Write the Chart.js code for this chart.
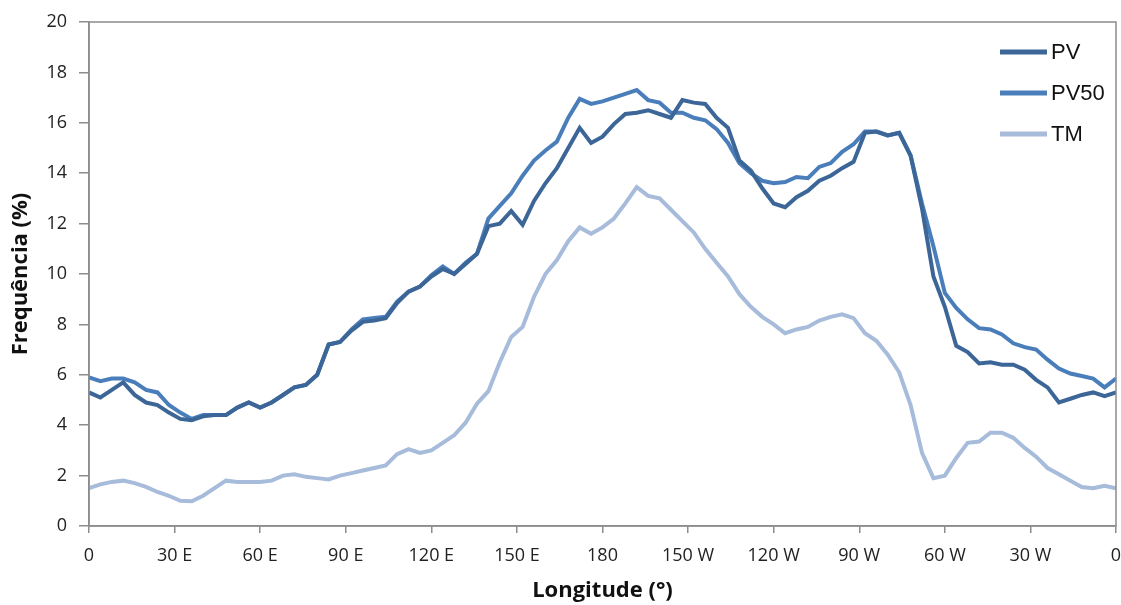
<!DOCTYPE html>
<html>
<head>
<meta charset="utf-8">
<title>Frequência por longitude</title>
<script src="https://cdn.jsdelivr.net/npm/chart.js@4.4.1/dist/chart.umd.min.js"></script>
<style>
  body { margin: 0; background: #fff; }
  canvas { display: block; }
</style>
</head>
<body>
<canvas id="mycanvas1" width="1121" height="605"></canvas>
<script>
// longitude in degrees east from 0 to 360 (0 -> 180 -> 0 W)
var longitudes = [0, 4, 8, 12, 16, 20, 24, 28, 32, 36, 40, 44, 48, 52, 56, 60, 64, 68, 72, 76,
	80, 84, 88, 92, 96, 100, 104, 108, 112, 116, 120, 124, 128, 132, 136, 140, 144, 148, 152, 156,
	160, 164, 168, 172, 176, 180, 184, 188, 192, 196, 200, 204, 208, 212, 216, 220, 224, 228, 232, 236,
	240, 244, 248, 252, 256, 260, 264, 268, 272, 276, 280, 284, 288, 292, 296, 300, 304, 308, 312, 316,
	320, 324, 328, 332, 336, 340, 344, 348, 352, 356, 360];

var pv = [5.3, 5.1, 5.4, 5.7, 5.2, 4.9, 4.8, 4.5, 4.25, 4.2, 4.35, 4.4, 4.4, 4.7, 4.9, 4.7, 4.9, 5.2, 5.5, 5.6,
	6.0, 7.2, 7.3, 7.75, 8.1, 8.15, 8.25, 8.85, 9.3, 9.5, 9.9, 10.2, 10.0, 10.4, 10.8, 11.9, 12.0, 12.5, 11.95, 12.9,
	13.6, 14.2, 15.0, 15.8, 15.2, 15.45, 15.95, 16.35, 16.4, 16.5, 16.35, 16.2, 16.9, 16.8, 16.75, 16.2, 15.8, 14.5, 14.1, 13.4,
	12.8, 12.65, 13.05, 13.3, 13.7, 13.9, 14.2, 14.45, 15.6, 15.65, 15.5, 15.6, 14.7, 12.6, 9.9, 8.7, 7.15, 6.9, 6.45, 6.5,
	6.4, 6.4, 6.2, 5.8, 5.5, 4.9, 5.05, 5.2, 5.3, 5.15, 5.3];

var pv50 = [5.9, 5.75, 5.85, 5.85, 5.7, 5.4, 5.3, 4.8, 4.5, 4.25, 4.4, 4.4, 4.4, 4.7, 4.9, 4.7, 4.9, 5.2, 5.5, 5.6,
	6.0, 7.2, 7.3, 7.8, 8.2, 8.25, 8.3, 8.9, 9.3, 9.5, 9.95, 10.3, 10.0, 10.45, 10.8, 12.2, 12.7, 13.2, 13.9, 14.5,
	14.9, 15.25, 16.2, 16.95, 16.75, 16.85, 17.0, 17.15, 17.3, 16.9, 16.8, 16.4, 16.4, 16.2, 16.1, 15.75, 15.2, 14.4, 14.0, 13.7,
	13.6, 13.65, 13.85, 13.8, 14.25, 14.4, 14.85, 15.15, 15.65, 15.65, 15.5, 15.6, 14.7, 12.8, 11.1, 9.25, 8.65, 8.2, 7.85, 7.8,
	7.6, 7.25, 7.1, 7.0, 6.6, 6.25, 6.05, 5.95, 5.85, 5.5, 5.85];

var tm = [1.5, 1.65, 1.75, 1.8, 1.7, 1.55, 1.35, 1.2, 1.0, 0.98, 1.2, 1.5, 1.8, 1.75, 1.75, 1.75, 1.8, 2.0, 2.05, 1.95,
	1.9, 1.85, 2.0, 2.1, 2.2, 2.3, 2.4, 2.85, 3.05, 2.9, 3.0, 3.3, 3.6, 4.1, 4.85, 5.35, 6.5, 7.5, 7.9, 9.1,
	10.0, 10.55, 11.3, 11.85, 11.6, 11.85, 12.2, 12.8, 13.45, 13.1, 13.0, 12.55, 12.1, 11.65, 11.0, 10.45, 9.9, 9.2, 8.7, 8.3,
	8.0, 7.65, 7.8, 7.9, 8.15, 8.3, 8.4, 8.25, 7.65, 7.35, 6.8, 6.1, 4.8, 2.9, 1.9, 2.0, 2.7, 3.3, 3.35, 3.7,
	3.7, 3.5, 3.1, 2.75, 2.3, 2.05, 1.8, 1.55, 1.5, 1.6, 1.5];

var seriesNames = ["PV", "PV50", "TM"];
var xTickLabels = ["0", "30 E", "60 E", "90 E", "120 E", "150 E", "180", "150 W", "120 W", "90 W", "60 W", "30 W", "0"];
var xTitle = "Longitude (°)";
var yTitle = "Frequência (%)";

function toPoints(values) {
	return longitudes.map(function(lon, i) { return {x: lon, y: values[i]}; });
}

var axisGray = "#8c8c8c";
var tickFont = {family: "Open Sans", size: 18};
var titleFont = {family: "Open Sans", size: 22, weight: "bold"};

// plot frame (top/right border) and legend in the top right corner
var framePlugin = {
	id: "frame",
	afterDraw: function(chart) {
		var ctx = chart.ctx;
		var a = chart.chartArea;
		ctx.save();
		ctx.strokeStyle = axisGray;
		ctx.lineWidth = 1.5;
		ctx.strokeRect(a.left, a.top, a.right - a.left, a.bottom - a.top);

		chart.data.datasets.forEach(function(ds, i) {
			var y = a.top + 30 + i * 41;
			ctx.strokeStyle = ds.borderColor;
			ctx.lineWidth = 5;
			ctx.beginPath();
			ctx.moveTo(a.right - 116, y);
			ctx.lineTo(a.right - 69, y);
			ctx.stroke();
			ctx.fillStyle = "#111";
			ctx.font = '22px "Liberation Sans"';
			ctx.textBaseline = "middle";
			ctx.fillText(ds.label, a.right - 65, y + 1);
		});
		ctx.restore();
	}
};

var chartdata = {
	datasets: [
		{
			label: seriesNames[0],
			borderColor: "#3b6697",
			backgroundColor: "#3b6697",
			borderWidth: 4,
			pointRadius: 0,
			fill: false,
			tension: 0,
			data: toPoints(pv)
		},
		{
			label: seriesNames[1],
			borderColor: "#4a7ebb",
			backgroundColor: "#4a7ebb",
			borderWidth: 4,
			pointRadius: 0,
			fill: false,
			tension: 0,
			data: toPoints(pv50)
		},
		{
			label: seriesNames[2],
			borderColor: "#a7bbda",
			backgroundColor: "#a7bbda",
			borderWidth: 4,
			pointRadius: 0,
			fill: false,
			tension: 0,
			data: toPoints(tm)
		}
	]
};

var ctx = document.getElementById("mycanvas1");

var LineGraph = new Chart(ctx, {
	type: "line",
	data: chartdata,
	plugins: [framePlugin],
	options: {
		responsive: false,
		animation: false,
		layout: {padding: {top: 22, right: 5, bottom: 0, left: 0}},
		plugins: {
			legend: {display: false},
			tooltip: {enabled: false}
		},
		scales: {
			x: {
				type: "linear",
				min: 0,
				max: 360,
				ticks: {
					stepSize: 30,
					padding: 12,
					color: "#222",
					font: tickFont,
					maxRotation: 0,
					callback: function(v) { return xTickLabels[Math.round(v / 30)]; }
				},
				grid: {drawOnChartArea: false, tickLength: 7, color: axisGray, lineWidth: 1.5},
				border: {color: axisGray, width: 1.5},
				title: {
					display: true,
					text: xTitle,
					color: "#111",
					font: titleFont,
					padding: {top: 0, bottom: 1}
				},
				afterFit: function(s) { s.height = 79; s.paddingLeft = 0; s.paddingRight = 0; }
			},
			y: {
				min: 0,
				max: 20,
				ticks: {stepSize: 2, padding: 12, color: "#222", font: tickFont},
				grid: {drawOnChartArea: false, tickLength: 10, color: axisGray, lineWidth: 1.5},
				border: {color: axisGray, width: 1.5},
				title: {
					display: true,
					text: yTitle,
					color: "#111",
					font: titleFont,
					padding: {top: 8, bottom: 0}
				},
				afterFit: function(s) { s.width = 89; s.paddingTop = 0; s.paddingBottom = 0; }
			}
		}
	}
});
</script>
</body>
</html>
